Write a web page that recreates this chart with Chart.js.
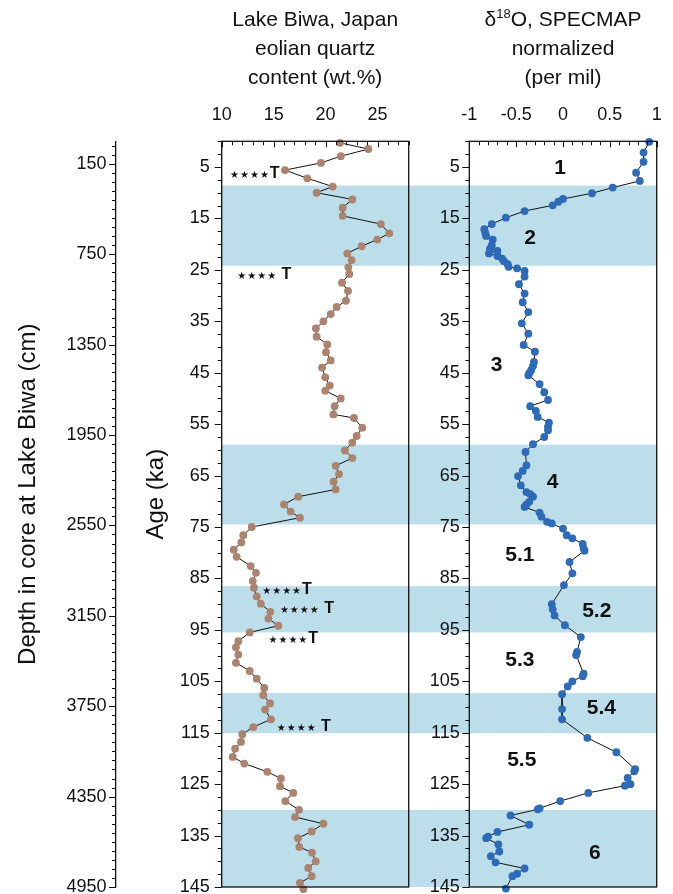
<!DOCTYPE html>
<html>
<head>
<meta charset="utf-8">
<script src="https://cdn.jsdelivr.net/npm/chart.js@4.4.1/dist/chart.umd.min.js"></script>
<style>
  html, body { margin: 0; padding: 0; background: #fff; }
  #wrap { position: relative; width: 673px; height: 894px; overflow: hidden; }
  #c1 { position: absolute; left: 0; top: 0; }
  #c2 { position: absolute; left: 415px; top: 0; }
</style>
</head>
<body>
<div id="wrap">
  <canvas id="c1" width="415" height="894"></canvas>
  <canvas id="c2" width="258" height="894"></canvas>
</div>
<script>
// eolian quartz, Lake Biwa (age ka / wt.%)
const quartzAge = [
  0.3, 1.5, 2.9, 4.2, 5.6, 7.2, 8.8, 10.0, 11.3, 12.9,
  14.5, 16.1, 17.9, 19.1, 20.4, 21.8, 23.1, 24.5, 25.8, 27.5,
  29.1, 31.0, 32.2, 33.6, 35.0, 36.4, 38.0, 39.5, 41.0, 42.6,
  44.0, 45.9, 47.5, 48.5, 50.0, 51.5, 53.1, 53.8, 55.7, 57.3,
  58.6, 60.1, 61.6, 63.1, 64.7, 66.2, 67.7, 69.1, 70.6, 72.0,
  73.2, 75.0, 76.6, 78.0, 79.4, 80.8, 82.6, 83.9, 85.5, 86.8,
  88.5, 89.9, 91.5, 92.8, 94.2, 95.5, 97.2, 98.4, 99.8, 101.4,
  103.0, 104.5, 106.3, 107.7, 109.3, 110.5, 112.4, 113.9, 115.3, 116.8,
  118.1, 119.7, 121.0, 122.6, 123.9, 125.4, 126.7, 128.3, 130.0, 131.4,
  132.7, 134.2, 135.5, 137.2, 138.3, 140.0, 141.3, 142.9, 144.2, 145.4
];
const quartzPct = [
  21.39, 24.12, 21.46, 19.56, 16.09, 18.24, 20.69, 19.14, 22.57, 21.64,
  21.64, 25.32, 26.13, 24.98, 23.47, 22.09, 22.51, 22.19, 22.28, 21.58,
  22.16, 21.96, 21.07, 20.49, 19.79, 19.07, 19.14, 20.16, 20.04, 20.49,
  19.66, 19.97, 20.40, 19.97, 21.46, 20.87, 20.75, 22.73, 23.53, 22.99,
  22.57, 21.86, 22.57, 20.97, 21.29, 20.77, 20.97, 17.37, 16.00, 16.64,
  17.53, 12.89, 12.08, 11.89, 11.16, 11.44, 12.79, 13.30, 12.99, 13.11,
  13.37, 13.76, 14.68, 14.49, 15.45, 12.70, 11.60, 11.37, 11.60, 11.37,
  12.70, 13.37, 14.10, 14.00, 14.65, 14.17, 14.74, 13.04, 11.98, 11.86,
  11.29, 11.06, 12.17, 14.39, 15.70, 15.61, 16.89, 16.12, 17.44, 17.06,
  19.79, 18.66, 17.34, 17.47, 18.69, 19.05, 18.33, 18.66, 17.53, 17.86
];

// SPECMAP d18O normalized
const d18oAge = [
  0.1, 2.2, 4.0, 6.1, 7.7, 9.0, 10.1, 11.2, 11.75, 12.45,
  13.56, 14.86, 16.1, 17.1, 17.8, 18.4, 19.1, 20.2, 20.9, 21.3,
  21.8, 22.3, 22.8, 23.3, 23.9, 24.4, 24.7, 25.2, 26.3, 27.8,
  29.6, 31.3, 33.2, 35.4, 37.4, 39.6, 40.9, 42.9, 43.7, 44.5,
  45.1, 45.5, 47.2, 48.8, 50.3, 51.5, 52.4, 53.6, 54.7, 55.5,
  56.2, 57.5, 58.9, 60.4, 63.0, 64.1, 65.1, 66.9, 68.2, 68.6,
  69.1, 70.1, 70.6, 71.1, 72.2, 73.0, 74.0, 74.3, 75.3, 76.6,
  77.2, 78.3, 79.2, 79.6, 81.8, 84.0, 86.3, 90.0, 91.0, 92.2,
  94.1, 96.4, 99.3, 99.9, 103.5, 104.0, 105.0, 106.0, 107.5, 110.4,
  112.4, 116.0, 118.8, 122.1, 122.5, 123.8, 125.0, 125.3, 126.7, 128.3,
  129.7, 129.9, 131.1, 132.9, 134.3, 135.2, 135.5, 136.7, 138.1, 139.0,
  140.2, 141.4, 142.4, 142.9, 145.3
];
const d18oVal = [
  0.92, 0.86, 0.86, 0.78, 0.82, 0.53, 0.31, 0.00, -0.05, -0.11,
  -0.41, -0.61, -0.76, -0.84, -0.83, -0.82, -0.75, -0.76, -0.78, -0.70,
  -0.79, -0.70, -0.65, -0.63, -0.59, -0.58, -0.49, -0.41, -0.41, -0.47,
  -0.41, -0.43, -0.37, -0.44, -0.37, -0.42, -0.30, -0.31, -0.32, -0.34,
  -0.36, -0.37, -0.25, -0.20, -0.16, -0.35, -0.29, -0.27, -0.15, -0.16,
  -0.16, -0.20, -0.32, -0.40, -0.39, -0.43, -0.48, -0.45, -0.39, -0.35,
  -0.32, -0.36, -0.39, -0.41, -0.25, -0.23, -0.17, -0.12, 0.00, 0.04,
  0.10, 0.21, 0.22, 0.23, 0.07, 0.10, 0.01, -0.12, -0.11, -0.09,
  0.02, 0.19, 0.15, 0.14, 0.22, 0.21, 0.10, 0.05, -0.01, -0.01,
  -0.01, 0.26, 0.57, 0.77, 0.76, 0.69, 0.72, 0.66, 0.27, -0.03,
  -0.25, -0.27, -0.56, -0.36, -0.70, -0.80, -0.82, -0.69, -0.68, -0.77,
  -0.72, -0.41, -0.49, -0.54, -0.61
];

// tick labels
const ageLabels = [5, 15, 25, 35, 45, 55, 65, 75, 85, 95, 105, 115, 125, 135, 145];
const depthLabels = [150, 750, 1350, 1950, 2550, 3150, 3750, 4350, 4950];
const quartzLabels = [10, 15, 20, 25];
const d18oLabels = [-1, -0.5, 0, 0.5, 1];

// marine isotope stages (shaded: 2, 4, 5.2, 5.4, 6)
const bandStart = [8.6, 59.0, 86.5, 107.3, 130.0];
const bandEnd = [24.2, 74.5, 95.5, 115.1, 145.0];
const stageNames = ['1', '2', '3', '4', '5.1', '5.2', '5.3', '5.4', '5.5', '6'];
const stageX = [-0.03, -0.35, -0.71, -0.11, -0.46, 0.36, -0.46, 0.41, -0.44, 0.34];
const stageAge = [5.2, 18.8, 43.5, 66.2, 80.5, 91.3, 100.9, 110.3, 120.4, 138.5];

// tephra markers in the quartz panel
const tephraText = ['★★★★T', '★★★★ T', '★★★★T', '★★★★ T', '★★★★T', '★★★★ T'];
const tephraPct = [10.8, 11.5, 13.9, 15.6, 14.5, 15.3];
const tephraAge = [6.2, 25.8, 87.0, 90.8, 96.6, 113.7];

const FONT = "'Liberation Sans', Arial, Helvetica, sans-serif";
const BAND = '#bcdeeb';
const INK = '#111';

function stepTicks(from, to, step) {
  const out = [];
  for (let k = 0; from + k * step <= to + 1e-9; k++) {
    out.push({ value: Math.round((from + k * step) * 1000) / 1000 });
  }
  return out;
}
function isIn(list, v) {
  return list.some(m => Math.abs(m - v) < 1e-6);
}
// keep the plot box where it is, no extra room for end labels
function noPad(s) {
  s.paddingTop = 0; s.paddingBottom = 0; s.paddingLeft = 0; s.paddingRight = 0;
}

// tick marks: y axes point outward, top axes point into the panel
function tickMarks(spec) {
  return {
    id: 'tickMarks',
    afterDraw(chart) {
      const ctx = chart.ctx, area = chart.chartArea;
      ctx.save();
      ctx.strokeStyle = INK;
      ctx.lineWidth = 1;
      Object.keys(spec).forEach(id => {
        const s = chart.scales[id], o = spec[id];
        s.ticks.forEach(t => {
          const len = isIn(o.major, t.value) ? o.majorLen : o.minorLen;
          const p = Math.round(s.getPixelForValue(t.value)) + 0.5;
          ctx.beginPath();
          if (s.isHorizontal()) {
            ctx.moveTo(p, area.top);
            ctx.lineTo(p, area.top + len);
          } else {
            ctx.moveTo(s.right, p);
            ctx.lineTo(s.right - len, p);
          }
          ctx.stroke();
        });
      });
      ctx.restore();
    }
  };
}

function bands(side) {
  return {
    id: 'bands',
    beforeDraw(chart) {
      const a = chart.chartArea, y = chart.scales.age, ctx = chart.ctx;
      const x0 = side === 'left' ? a.left : 0;
      const x1 = side === 'left' ? chart.width : a.right;
      ctx.save();
      ctx.fillStyle = BAND;
      bandStart.forEach((b, i) => {
        const t = y.getPixelForValue(b), bt = y.getPixelForValue(bandEnd[i]);
        ctx.fillRect(x0, t, x1 - x0, bt - t);
      });
      ctx.restore();
    }
  };
}

const frame = {
  id: 'frame',
  afterDraw(chart) {
    const a = chart.chartArea, ctx = chart.ctx;
    ctx.save();
    ctx.strokeStyle = INK;
    ctx.lineWidth = 1.3;
    ctx.strokeRect(a.left, a.top, a.right - a.left, a.bottom - a.top);
    ctx.restore();
  }
};

function header(lines) {
  return {
    id: 'header',
    afterDraw(chart) {
      const a = chart.chartArea, ctx = chart.ctx;
      const cx = (a.left + a.right) / 2;
      const ys = [20, 49, 78];
      ctx.save();
      ctx.fillStyle = INK;
      ctx.textBaseline = 'middle';
      lines.forEach((ln, i) => {
        // each line is a list of [text, superscript?] pieces
        const big = '21px ' + FONT, small = '13px ' + FONT;
        let w = 0;
        ln.forEach(p => { ctx.font = p[1] ? small : big; w += ctx.measureText(p[0]).width; });
        let x = cx - w / 2;
        ctx.textAlign = 'left';
        ln.forEach(p => {
          ctx.font = p[1] ? small : big;
          ctx.fillText(p[0], x, p[1] ? ys[i] - 6 : ys[i]);
          x += ctx.measureText(p[0]).width;
        });
      });
      ctx.restore();
    }
  };
}

const axisTitles = {
  id: 'axisTitles',
  afterDraw(chart) {
    const ctx = chart.ctx, age = chart.scales.age;
    const cy = (age.top + age.bottom) / 2 - 20;
    [['Depth in core at Lake Biwa (cm)', 28], ['Age (ka)', 156]].forEach(t => {
      ctx.save();
      ctx.fillStyle = INK;
      ctx.textAlign = 'center';
      ctx.textBaseline = 'middle';
      ctx.font = '24px ' + FONT;
      ctx.translate(t[1], cy);
      ctx.rotate(-Math.PI / 2);
      ctx.fillText(t[0], 0, 0);
      ctx.restore();
    });
  }
};

const tephra = {
  id: 'tephra',
  afterDatasetsDraw(chart) {
    const ctx = chart.ctx, x = chart.scales.x, y = chart.scales.age;
    ctx.save();
    ctx.fillStyle = INK;
    ctx.textAlign = 'left';
    ctx.textBaseline = 'alphabetic';
    tephraText.forEach((txt, i) => {
      let px = x.getPixelForValue(tephraPct[i]);
      const py = y.getPixelForValue(tephraAge[i]) + 5;
      for (const ch of txt) {
        ctx.font = ch === '★' ? "10px 'DejaVu Sans', sans-serif" : 'bold 16px ' + FONT;
        ctx.fillText(ch, px, py);
        px += ctx.measureText(ch).width + (ch === '★' ? 1 : 0);
      }
    });
    ctx.restore();
  }
};

const stages = {
  id: 'stages',
  afterDatasetsDraw(chart) {
    const ctx = chart.ctx, x = chart.scales.x, y = chart.scales.age;
    ctx.save();
    ctx.fillStyle = INK;
    ctx.textAlign = 'center';
    ctx.textBaseline = 'middle';
    ctx.font = 'bold 21px ' + FONT;
    stageNames.forEach((s, i) => {
      ctx.fillText(s, x.getPixelForValue(stageX[i]), y.getPixelForValue(stageAge[i]));
    });
    ctx.restore();
  }
};

const tickFont = { family: FONT, size: 18, lineHeight: 0.8 };
const topFont = { family: FONT, size: 18 };

// left figure: depth axis, age axis, quartz panel
new Chart(document.getElementById('c1'), {
  type: 'scatter',
  data: {
    datasets: [{
      data: quartzAge.map((a, i) => ({ x: quartzPct[i], y: a })),
      showLine: true,
      borderColor: INK,
      borderWidth: 1,
      pointRadius: 3.9,
      pointBorderWidth: 0,
      pointBackgroundColor: '#ab836f',
      clip: false,
      xAxisID: 'x',
      yAxisID: 'age'
    }]
  },
  options: {
    responsive: false,
    animation: false,
    events: [],
    layout: { padding: { top: 0, left: 0, right: 6.3, bottom: 7 } },
    plugins: { legend: { display: false }, tooltip: { enabled: false } },
    scales: {
      x: {
        type: 'linear', position: 'top', min: 10, max: 28,
        afterBuildTicks: s => { s.ticks = stepTicks(10, 28, 1); },
        afterFit: s => { s.height = 141.3; noPad(s); },
        grid: { display: false, drawTicks: false },
        border: { display: false },
        ticks: {
          autoSkip: false, maxRotation: 0, padding: 15, color: INK, font: topFont,
          callback: v => isIn(quartzLabels, v) ? String(v) : ''
        }
      },
      age: {
        type: 'linear', position: 'left', reverse: true, min: 0, max: 145, weight: 1,
        afterBuildTicks: s => { s.ticks = stepTicks(0, 145, 2.5); },
        afterFit: s => { s.width = 105.7; noPad(s); },
        grid: { display: false, drawTicks: false },
        border: { display: false },
        ticks: {
          autoSkip: false, padding: 12, color: INK, font: tickFont,
          callback: v => isIn(ageLabels, v) ? String(v) : ''
        }
      },
      depth: {
        type: 'linear', position: 'left', reverse: true, min: 0, max: 4950, weight: 2,
        afterBuildTicks: s => { s.ticks = stepTicks(30, 4950, 60); },
        afterFit: s => { s.width = 116; noPad(s); },
        grid: { display: false, drawTicks: false },
        border: { display: true, color: INK, width: 1.3 },
        ticks: {
          autoSkip: false, padding: 9.5, color: INK, font: tickFont,
          callback: v => isIn(depthLabels, v) ? String(v) : ''
        }
      }
    }
  },
  plugins: [
    bands('left'), frame, tephra, axisTitles,
    header([[['Lake Biwa, Japan']], [['eolian quartz']], [['content (wt.%)']]]),
    tickMarks({
      x: { major: quartzLabels, majorLen: 6, minorLen: 4 },
      age: { major: ageLabels, majorLen: 7, minorLen: 4 },
      depth: { major: depthLabels, majorLen: 7, minorLen: 4 }
    })
  ]
});

// right figure: age axis and d18O panel
new Chart(document.getElementById('c2'), {
  type: 'scatter',
  data: {
    datasets: [{
      data: d18oAge.map((a, i) => ({ x: d18oVal[i], y: a })),
      showLine: true,
      borderColor: INK,
      borderWidth: 1,
      pointRadius: 3.9,
      pointBorderWidth: 0,
      pointBackgroundColor: '#2d6ab8',
      clip: false,
      xAxisID: 'x',
      yAxisID: 'age'
    }]
  },
  options: {
    responsive: false,
    animation: false,
    events: [],
    layout: { padding: { top: 0, left: 0, right: 16.3, bottom: 7 } },
    plugins: { legend: { display: false }, tooltip: { enabled: false } },
    scales: {
      x: {
        type: 'linear', position: 'top', min: -1, max: 1,
        afterBuildTicks: s => { s.ticks = stepTicks(-1, 1, 0.1); },
        afterFit: s => { s.height = 141.3; noPad(s); },
        grid: { display: false, drawTicks: false },
        border: { display: false },
        ticks: {
          autoSkip: false, maxRotation: 0, padding: 15, color: INK, font: topFont,
          callback: v => isIn(d18oLabels, v) ? String(Math.round(v * 10) / 10) : ''
        }
      },
      age: {
        type: 'linear', position: 'left', reverse: true, min: 0, max: 145,
        afterBuildTicks: s => { s.ticks = stepTicks(0, 145, 2.5); },
        afterFit: s => { s.width = 54.3; noPad(s); },
        grid: { display: false, drawTicks: false },
        border: { display: false },
        ticks: {
          autoSkip: false, padding: 9.5, color: INK, font: tickFont,
          callback: v => isIn(ageLabels, v) ? String(v) : ''
        }
      }
    }
  },
  plugins: [
    bands('right'), frame, stages,
    header([[['δ'], ['18', true], ['O, SPECMAP']], [['normalized']], [['(per mil)']]]),
    tickMarks({
      x: { major: d18oLabels, majorLen: 6, minorLen: 4 },
      age: { major: ageLabels, majorLen: 7, minorLen: 4 }
    })
  ]
});
</script>
</body>
</html>
